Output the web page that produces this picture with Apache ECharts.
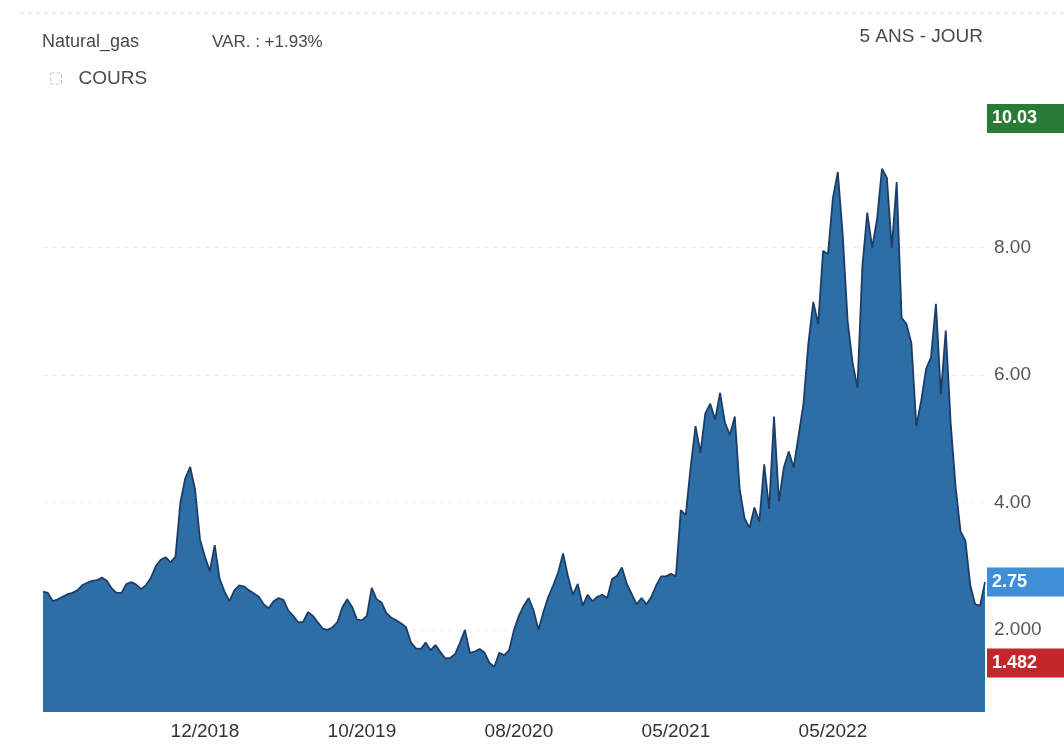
<!DOCTYPE html>
<html>
<head>
<meta charset="utf-8">
<title>Natural_gas</title>
<script src="https://cdn.jsdelivr.net/npm/echarts@6/dist/echarts.min.js"></script>
<style>
  html, body { margin: 0; padding: 0; background: #ffffff; }
  #chart { width: 1064px; height: 753px; }
</style>
</head>
<body>
<div id="chart"></div>
<script>
// Natural gas closing price, five years of history (one point per sampling step)
const price = [
  2.60, 2.58, 2.45, 2.48, 2.52, 2.56, 2.58, 2.62, 2.70, 2.74,
  2.77, 2.78, 2.82, 2.77, 2.65, 2.58, 2.58, 2.72, 2.75, 2.71,
  2.64, 2.70, 2.82, 3.00, 3.10, 3.14, 3.06, 3.15, 4.00, 4.38,
  4.56, 4.20, 3.42, 3.15, 2.92, 3.33, 2.80, 2.60, 2.45, 2.62,
  2.70, 2.68, 2.62, 2.57, 2.52, 2.40, 2.34, 2.45, 2.50, 2.47,
  2.30, 2.22, 2.12, 2.12, 2.28, 2.22, 2.12, 2.02, 2.00, 2.04,
  2.12, 2.35, 2.48, 2.36, 2.16, 2.15, 2.22, 2.66, 2.48, 2.43,
  2.26, 2.19, 2.15, 2.10, 2.04, 1.80, 1.71, 1.70, 1.80, 1.68,
  1.76, 1.65, 1.55, 1.56, 1.62, 1.80, 2.00, 1.64, 1.66, 1.70,
  1.64, 1.48, 1.42, 1.64, 1.60, 1.68, 2.00, 2.22, 2.38, 2.50,
  2.30, 2.00, 2.28, 2.52, 2.70, 2.90, 3.20, 2.84, 2.55, 2.72,
  2.38, 2.55, 2.45, 2.52, 2.55, 2.50, 2.80, 2.85, 2.98, 2.72,
  2.56, 2.40, 2.50, 2.40, 2.52, 2.70, 2.84, 2.84, 2.88, 2.84,
  3.88, 3.80, 4.55, 5.20, 4.78, 5.40, 5.55, 5.30, 5.72, 5.25,
  5.06, 5.35, 4.20, 3.75, 3.60, 3.92, 3.70, 4.60, 3.90, 5.35,
  4.02, 4.55, 4.80, 4.55, 5.05, 5.55, 6.50, 7.15, 6.80, 7.95,
  7.90, 8.78, 9.19, 8.20, 6.85, 6.20, 5.80, 7.70, 8.55, 8.00,
  8.45, 9.24, 9.10, 8.00, 9.03, 6.90, 6.80, 6.50, 5.20, 5.60,
  6.10, 6.28, 7.12, 5.70, 6.70, 5.25, 4.25, 3.55, 3.40, 2.70,
  2.40, 2.38, 2.75
];

// Month labels shown under the axis, and the sample index each one sits on
const monthTickIndex = [33, 65, 97, 129, 161];
const monthTickLabels = ['12/2018', '10/2019', '08/2020', '05/2021', '05/2022'];

// Price axis ticks and their printed text
const priceTicks = [2, 4, 6, 8];
const priceTickLabels = ['2.000', '4.00', '6.00', '8.00'];

// Period extremes (intraday high / low over the five years)
const periodHigh = 10.03;
const periodLow = 1.482;
const lastClose = price[price.length - 1];

const instrumentName = 'Natural_gas';
const variationText = 'VAR. : +1.93%';
const periodText = '5 ANS - JOUR';
const seriesName = 'COURS';

const categories = price.map((_, i) => i);

const FONT = 'Liberation Sans, Arial, sans-serif';
const headerStyle = (size) => ({ fontFamily: FONT, fontSize: size, fontWeight: 'normal', color: '#4a4a4a' });

const chart = echarts.init(document.getElementById('chart'), null, { renderer: 'canvas' });

const boxLabel = (bg, text) => ({
  show: true,
  position: 'end',
  distance: 2,
  formatter: text,
  color: '#ffffff',
  backgroundColor: bg,
  fontFamily: FONT,
  fontSize: 18,
  fontWeight: 'bold',
  lineHeight: 19,
  padding: [5, 40, 5, 5]
});

chart.setOption({
  backgroundColor: '#ffffff',
  animation: false,
  title: [
    { text: instrumentName, left: 42, top: 33, padding: 0, textStyle: headerStyle(18) },
    { text: variationText, left: 212, top: 34, padding: 0, textStyle: headerStyle(17) },
    { text: periodText, right: 81, top: 27, padding: 0, textStyle: headerStyle(19) }
  ],
  legend: {
    left: 50, top: 69, padding: 0,
    itemWidth: 11, itemHeight: 11, itemGap: 8,
    data: [{
      name: seriesName,
      icon: 'rect',
      itemStyle: { color: 'rgba(0,0,0,0)', borderColor: '#c8c8c8', borderWidth: 1, borderType: 'dashed' }
    }],
    textStyle: { fontFamily: FONT, fontSize: 19, color: '#4a4a4a', padding: [0, 0, 0, 12] },
    selectedMode: false
  },
  graphic: [{
    type: 'line', silent: true,
    shape: { x1: 20, y1: 13, x2: 1064, y2: 13 },
    style: { stroke: '#e0e0e0', lineWidth: 1, lineDash: [5, 3] }
  }],
  grid: { left: 43, right: 79, top: 100, bottom: 41 },
  xAxis: {
    type: 'category',
    data: categories,
    boundaryGap: false,
    axisLine: { show: false },
    axisTick: { show: false },
    splitLine: { show: false },
    axisLabel: {
      interval: (idx) => monthTickIndex.includes(idx),
      formatter: (v, idx) => {
        const k = monthTickIndex.indexOf(idx);
        return k >= 0 ? monthTickLabels[k] : '';
      },
      margin: 10,
      fontFamily: FONT,
      fontSize: 19,
      color: '#333'
    }
  },
  yAxis: {
    type: 'value',
    position: 'right',
    min: 0.71,
    max: 10.32,
    axisLine: { show: false },
    axisTick: { show: false, customValues: priceTicks },
    axisLabel: {
      customValues: priceTicks,
      formatter: (v) => {
        const k = priceTicks.indexOf(v);
        return k >= 0 ? priceTickLabels[k] : '';
      },
      margin: 9,
      fontFamily: FONT,
      fontSize: 19,
      color: '#555'
    },
    splitLine: { show: true, lineStyle: { color: '#ebebeb', type: [5, 4], width: 1 } }
  },
  series: [{
    name: seriesName,
    type: 'line',
    data: price,
    clip: false,
    symbol: 'none',
    smooth: false,
    lineStyle: { color: '#1b3d68', width: 1.8 },
    areaStyle: { color: '#2e6ea7', opacity: 1, origin: 'start' },
    itemStyle: { color: '#2e6ea7' },
    markLine: {
      silent: true,
      symbol: 'none',
      animation: false,
      lineStyle: { color: 'rgba(0,0,0,0)', width: 0 },
      data: [
        { yAxis: periodHigh, label: boxLabel('#2a7a38', periodHigh.toFixed(2)) },
        { yAxis: lastClose, label: boxLabel('#3f8fd8', lastClose.toFixed(2)) },
        { yAxis: periodLow, label: boxLabel('#c3272b', periodLow.toFixed(3)) }
      ]
    }
  }]
});
</script>
</body>
</html>
